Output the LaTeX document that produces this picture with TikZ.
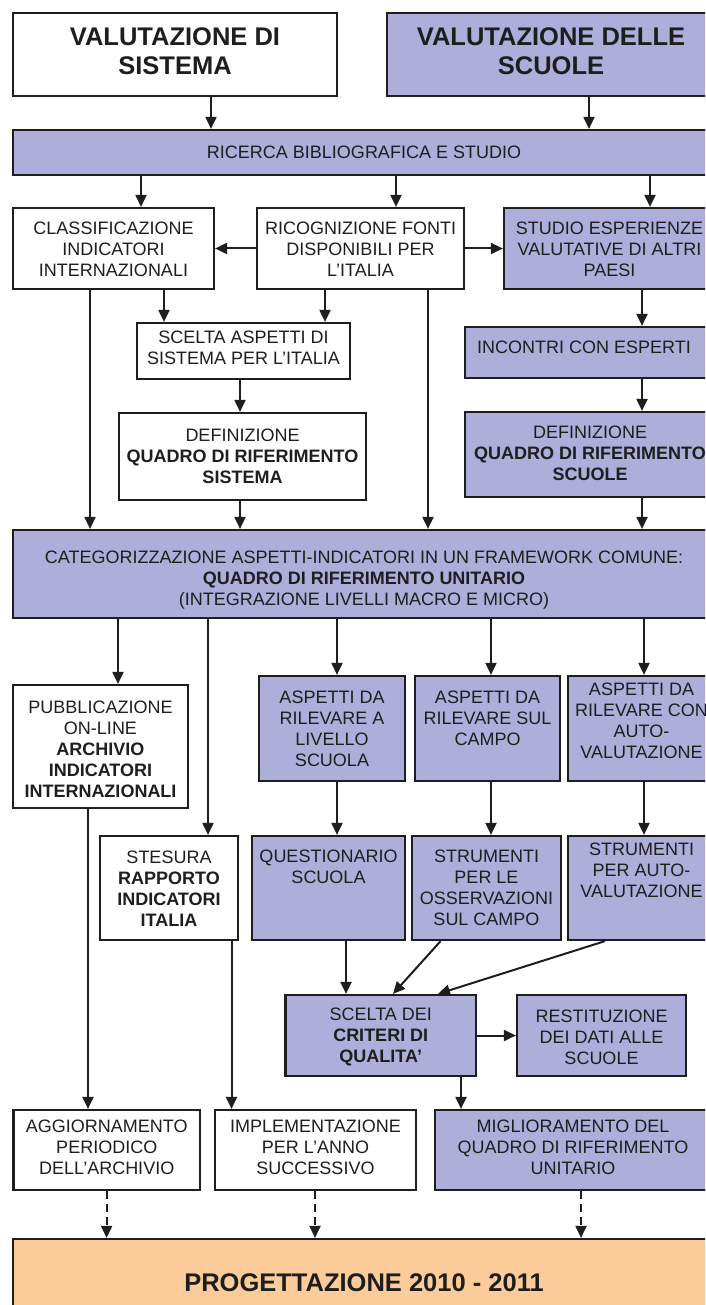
\documentclass[tikz,border=0pt]{standalone}
\usepackage{fontspec}
\setmainfont{Liberation Sans}
\usetikzlibrary{arrows.meta}
\definecolor{lav}{RGB}{174,174,218}
\definecolor{peach}{RGB}{251,204,153}
\definecolor{ink}{RGB}{30,30,30}
\tikzset{
 boxw/.style={draw=ink, line width=2.2pt, fill=white, inner sep=0pt},
 boxp/.style={boxw, fill=lav},
 boxo/.style={boxw, fill=peach},
 txt/.style={align=center, inner sep=0pt, text=ink, font=\fontsize{18}{21}\selectfont},
 ttl/.style={align=center, inner sep=0pt, text=ink, font=\fontsize{25.5}{28.5}\selectfont\bfseries},
 arr/.style={draw=ink, line width=2pt, -{Triangle[length=12pt,width=11pt]}},
 darr/.style={arr, dash pattern=on 8pt off 5pt},
}
\newcommand{\bx}[6]{\node[#6, minimum width={#4-#2}, minimum height={#5-#3}] (#1) at ({(#2+#4)/2},{(#3+#5)/2}) {};}
\begin{document}
\begin{tikzpicture}[x=1pt,y=-1pt]
\useasboundingbox (0,0) rectangle (705,1305);
\clip (0,0) rectangle (705,1305);
\fill[white] (0,0) rectangle (705,1305);
% boxes
\bx{A}{13}{13}{337}{96}{boxw}
\bx{B}{387}{13}{715}{96}{boxp}
\bx{RIC}{13}{130}{715}{175}{boxp}
\bx{CLASS}{13}{208}{214}{289}{boxw}
\bx{RICOG}{257}{208}{464}{289}{boxw}
\bx{STUDIO}{504}{208}{715}{289}{boxp}
\bx{SCELTA}{137}{323}{350}{379}{boxw}
\bx{INC}{465}{327}{715}{378}{boxp}
\bx{DEFSIS}{119}{413}{366}{500}{boxw}
\bx{DEFSCU}{465}{412}{715}{497}{boxp}
\bx{CATEG}{13}{530}{715}{618}{boxp}
\bx{PUBB}{13}{685}{188}{808}{boxw}
\bx{ASPA}{259}{676}{405}{781}{boxp}
\bx{ASPB}{415}{676}{560}{781}{boxp}
\bx{ASPC}{568}{676}{715}{781}{boxp}
\bx{STES}{100}{836}{238}{940}{boxw}
\bx{QUEST}{252}{836}{405}{940}{boxp}
\bx{STRO}{412}{836}{561}{940}{boxp}
\bx{STRA}{568}{836}{715}{940}{boxp}
\bx{SCRIT}{285.5}{995}{476}{1076}{boxp}
\bx{REST}{517}{995}{686}{1076}{boxp}
\bx{AGG}{13.5}{1110}{200}{1190}{boxw}
\bx{IMPL}{215}{1110}{416}{1190}{boxw}
\bx{MIGL}{435}{1110}{715}{1190}{boxp}
\bx{PROG}{13}{1239}{715}{1328}{boxo}
% texts
\node[ttl] (A-t) at (175,51) {VALUTAZIONE DI\\SISTEMA};
\node[ttl] (B-t) at (551,51) {VALUTAZIONE DELLE\\SCUOLE};
\node[txt] (RIC-t) at (364,152.5) {RICERCA BIBLIOGRAFICA E STUDIO};
\node[txt] (CLASS-t) at (113.5,249) {CLASSIFICAZIONE\\INDICATORI\\INTERNAZIONALI};
\node[txt] (RICOG-t) at (360.5,249) {RICOGNIZIONE FONTI\\DISPONIBILI PER\\L'ITALIA};
\node[txt] (STUDIO-t) at (609.5,249) {STUDIO ESPERIENZE\\VALUTATIVE DI ALTRI\\PAESI};
\node[txt] (SCELTA-t) at (243.5,348) {SCELTA ASPETTI DI\\SISTEMA PER L'ITALIA};
\node[txt] (INC-t) at (584,347) {INCONTRI CON ESPERTI};
\node[txt] (DEFSIS-t) at (242.5,456) {DEFINIZIONE\\\textbf{QUADRO DI RIFERIMENTO}\\\textbf{SISTEMA}};
\node[txt] (DEFSCU-t) at (590,453) {DEFINIZIONE\\\textbf{QUADRO DI RIFERIMENTO}\\\textbf{SCUOLE}};
\node[txt] (CATEG-t) at (364,580) {CATEGORIZZAZIONE ASPETTI-INDICATORI IN UN FRAMEWORK COMUNE:\\\textbf{QUADRO DI RIFERIMENTO UNITARIO}\\(INTEGRAZIONE LIVELLI MACRO E MICRO)};
\node[txt] (PUBB-t) at (100.5,749) {PUBBLICAZIONE\\ON-LINE\\\textbf{ARCHIVIO}\\\textbf{INDICATORI}\\\textbf{INTERNAZIONALI}};
\node[txt] (ASPA-t) at (332,728.5) {ASPETTI DA\\RILEVARE A\\LIVELLO\\SCUOLA};
\node[txt] (ASPB-t) at (487.5,718) {ASPETTI DA\\RILEVARE SUL\\CAMPO};
\node[txt] (ASPC-t) at (641.5,721) {ASPETTI DA\\RILEVARE CON\\AUTO-\\VALUTAZIONE};
\node[txt] (STES-t) at (169,888.5) {STESURA\\\textbf{RAPPORTO}\\\textbf{INDICATORI}\\\textbf{ITALIA}};
\node[txt] (QUEST-t) at (328.5,867) {QUESTIONARIO\\SCUOLA};
\node[txt] (STRO-t) at (486.5,888) {STRUMENTI\\PER LE\\OSSERVAZIONI\\SUL CAMPO};
\node[txt] (STRA-t) at (641.5,870) {STRUMENTI\\PER AUTO-\\VALUTAZIONE};
\node[txt] (SCRIT-t) at (380.75,1037) {SCELTA DEI\\\textbf{CRITERI DI}\\\textbf{QUALITA'}};
\node[txt] (REST-t) at (601.5,1037) {RESTITUZIONE\\DEI DATI ALLE\\SCUOLE};
\node[txt] (AGG-t) at (106.75,1147) {AGGIORNAMENTO\\PERIODICO\\DELL'ARCHIVIO};
\node[txt] (IMPL-t) at (315.5,1147) {IMPLEMENTAZIONE\\PER L'ANNO\\SUCCESSIVO};
\node[txt] (MIGL-t) at (573,1147) {MIGLIORAMENTO DEL\\QUADRO DI RIFERIMENTO\\UNITARIO};
\node[ttl] (PROG-t) at (364,1283) {PROGETTAZIONE 2010 - 2011};
% connectors
\draw[arr] (211,0 |- A.south) -- (211,0 |- RIC.north);
\draw[arr] (589,0 |- B.south) -- (589,0 |- RIC.north);
\draw[arr] (141,0 |- RIC.south) -- (141,0 |- CLASS.north);
\draw[arr] (396,0 |- RIC.south) -- (396,0 |- RICOG.north);
\draw[arr] (650,0 |- RIC.south) -- (650,0 |- STUDIO.north);
\draw[arr] (RICOG.west) -- (CLASS.east);
\draw[arr] (RICOG.east) -- (STUDIO.west);
\draw[arr] (164,0 |- CLASS.south) -- (164,0 |- SCELTA.north);
\draw[arr] (325,0 |- RICOG.south) -- (325,0 |- SCELTA.north);
\draw[arr] (90,0 |- CLASS.south) -- (90,0 |- CATEG.north);
\draw[arr] (428,0 |- RICOG.south) -- (428,0 |- CATEG.north);
\draw[arr] (240,0 |- SCELTA.south) -- (240,0 |- DEFSIS.north);
\draw[arr] (240,0 |- DEFSIS.south) -- (240,0 |- CATEG.north);
\draw[arr] (642,0 |- STUDIO.south) -- (642,0 |- INC.north);
\draw[arr] (642,0 |- INC.south) -- (642,0 |- DEFSCU.north);
\draw[arr] (642,0 |- DEFSCU.south) -- (642,0 |- CATEG.north);
\draw[arr] (118,0 |- CATEG.south) -- (118,0 |- PUBB.north);
\draw[arr] (208,0 |- CATEG.south) -- (208,0 |- STES.north);
\draw[arr] (337,0 |- CATEG.south) -- (337,0 |- ASPA.north);
\draw[arr] (491,0 |- CATEG.south) -- (491,0 |- ASPB.north);
\draw[arr] (644,0 |- CATEG.south) -- (644,0 |- ASPC.north);
\draw[arr] (337,0 |- ASPA.south) -- (337,0 |- QUEST.north);
\draw[arr] (491,0 |- ASPB.south) -- (491,0 |- STRO.north);
\draw[arr] (644,0 |- ASPC.south) -- (644,0 |- STRA.north);
\draw[arr] (88,0 |- PUBB.south) -- (88,0 |- AGG.north);
\draw[arr] (231.5,0 |- STES.south) -- (231.5,0 |- IMPL.north);
\draw[arr] (346,0 |- QUEST.south) -- (346,0 |- SCRIT.north);
\draw[arr] (440.6,0 |- STRO.south) -- (393,0 |- SCRIT.north);
\draw[arr] (605,0 |- STRA.south) -- (438,0 |- SCRIT.north);
\draw[arr] (SCRIT.east) -- (REST.west);
\draw[arr] (461,0 |- SCRIT.south) -- (461,0 |- MIGL.north);
\draw[darr] (106.6,0 |- AGG.south) -- (106.6,0 |- PROG.north);
\draw[darr] (315,0 |- IMPL.south) -- (315,0 |- PROG.north);
\draw[darr] (581,0 |- MIGL.south) -- (581,0 |- PROG.north);
\end{tikzpicture}
\end{document}
